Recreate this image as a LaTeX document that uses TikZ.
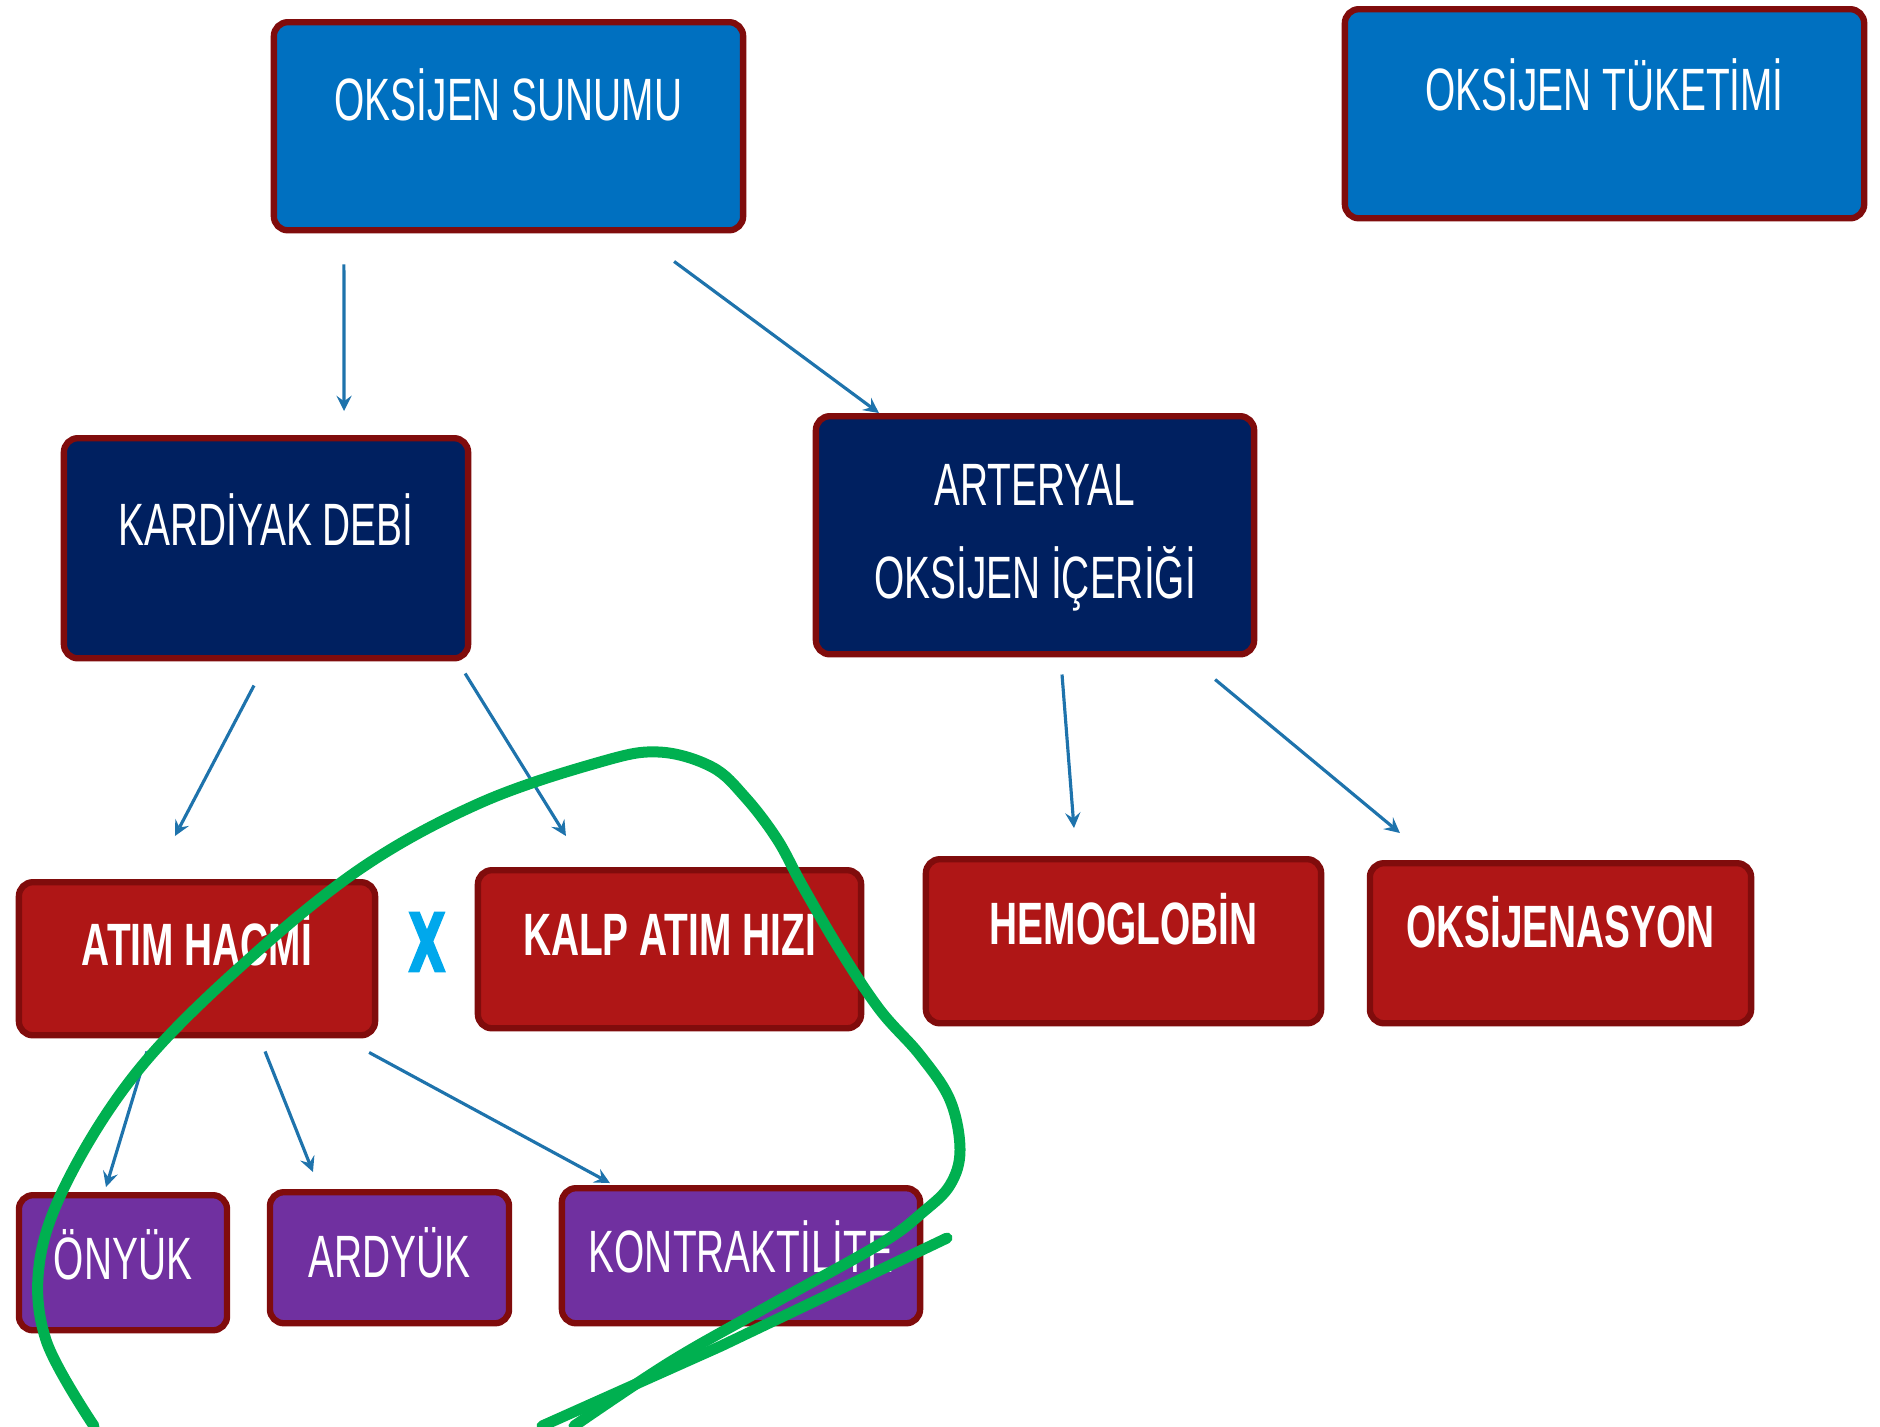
\documentclass[tikz,border=0pt]{standalone}
\usepackage{fontspec}
\newfontfamily\boxfont{Liberation Sans}[FakeStretch=0.65]
\newfontfamily\mulfont{DejaVu Sans}[FakeStretch=0.6, FakeBold=2]
\usepackage{tikz}

\definecolor{sunblue}{RGB}{0,112,192}
\definecolor{navy}{RGB}{0,32,96}
\definecolor{boxred}{RGB}{175,22,22}
\definecolor{boxpurple}{RGB}{112,48,160}
\definecolor{rim}{RGB}{128,12,12}
\definecolor{arrblue}{RGB}{30,115,172}
\definecolor{marker}{RGB}{0,176,80}
\definecolor{xcyan}{RGB}{0,168,236}

\tikzstyle{box}=[shape=rectangle,
                 anchor=north,
                 draw=rim,
                 line width=1.8pt,
                 rounded corners=0.14cm,
                 inner sep=0pt,
                 text=white,
                 font=\boxfont\fontsize{17}{20}\selectfont]
\tikzstyle{sbox}=[box, fill=sunblue]
\tikzstyle{nbox}=[box, fill=navy]
\tikzstyle{rbox}=[box, fill=boxred, font=\boxfont\bfseries\fontsize{17}{20}\selectfont]
\tikzstyle{pbox}=[box, fill=boxpurple]
\tikzstyle{arr}=[->, draw=arrblue, line width=0.9pt]
\tikzstyle{mul}=[inner sep=0pt, text=xcyan,
                 font=\mulfont\bfseries\fontsize{23}{23}\selectfont]
\tikzstyle{scribble}=[draw=marker, line width=0.11cm, line cap=round, line join=round]

\begin{document}
\begin{tikzpicture}[>=stealth, x=0.01cm, y=-0.01cm]
\useasboundingbox (0,0) rectangle (1880,1426);

% top row
\node[sbox, minimum width=4.69cm, text height=0.98cm, text depth=1.10cm] (sunum) at (508.5,19) {OKSİJEN SUNUMU};
\node[sbox, minimum width=5.19cm, text height=1.01cm, text depth=1.08cm] (tuketim) at (1604.5,6) {OKSİJEN TÜKETİMİ};

% second row
\node[nbox, minimum width=4.04cm, text height=1.07cm, text depth=1.13cm] (kd) at (266,435) {KARDİYAK DEBİ};
\node[nbox, minimum width=4.38cm, text height=0.89cm, text depth=1.49cm] (art) at (1035,413)
     {\parbox[t]{4cm}{\centering\baselineskip=0.93cm ARTERYAL\\OKSİJEN İÇERİĞİ}};

% third row
\node[rbox, minimum width=3.56cm, text height=0.83cm, text depth=0.70cm] (atim) at (197,879) {ATIM HACMİ};
\node[rbox, minimum width=3.83cm, text height=0.85cm, text depth=0.73cm] (kalp) at (669.5,867) {KALP ATIM HIZI};
\node[rbox, minimum width=3.95cm, text height=0.85cm, text depth=0.79cm] (hemo) at (1123.5,856) {HEMOGLOBİN};
\node[rbox, minimum width=3.81cm, text height=0.84cm, text depth=0.76cm] (oksj) at (1560.5,860) {OKSİJENASYON};
\node[mul] (times) at (427,942) {X};

% bottom row
\node[pbox, minimum width=2.08cm, text height=0.84cm, text depth=0.51cm] (onyuk) at (123,1192) {ÖNYÜK};
\node[pbox, minimum width=2.39cm, text height=0.85cm, text depth=0.46cm] (ardyuk) at (389.5,1189) {ARDYÜK};
\node[pbox, minimum width=3.58cm, text height=0.84cm, text depth=0.51cm] (kontr) at (741,1185) {KONTRAKTİLİTE};

% arrows
\draw[arr] ([xshift=-1.645cm,yshift=-0.31cm]sunum.south) -- ([xshift=0.78cm,yshift=0.24cm]kd.north);
\draw[arr] ([xshift=1.655cm,yshift=-0.28cm]sunum.south) -- ([xshift=-1.56cm]art.north);
\draw[arr] ([xshift=-0.12cm,yshift=-0.24cm]kd.south) -- ([xshift=-0.22cm,yshift=0.43cm]atim.north);
\draw[arr] ([xshift=1.99cm,yshift=-0.12cm]kd.south) -- ([xshift=-1.035cm,yshift=0.31cm]kalp.north);
\draw[arr] ([xshift=0.27cm,yshift=-0.17cm]art.south) -- ([xshift=-0.495cm,yshift=0.28cm]hemo.north);
\draw[arr] ([xshift=1.80cm,yshift=-0.22cm]art.south) -- ([xshift=-1.605cm,yshift=0.27cm]oksj.north);
\draw[arr] ([xshift=-0.50cm,yshift=-0.13cm]atim.south) -- ([xshift=-0.17cm,yshift=0.05cm]onyuk.north);
\draw[arr] ([xshift=0.68cm,yshift=-0.13cm]atim.south) -- ([xshift=-0.765cm,yshift=0.17cm]ardyuk.north);
\draw[arr] ([xshift=1.72cm,yshift=-0.14cm]atim.south) -- ([xshift=-1.31cm,yshift=0.02cm]kontr.north);

% green hand-drawn loop
\draw[scribble] plot[smooth, tension=0.6] coordinates {
  (94,1426) (46,1340) (40,1259) (72,1172) (140,1068) (240,967) (360,869)
  (480,803) (600,762) (659,752) (712,767) (745,797) (777,839) (802,885)
  (840,950) (880,1010) (920,1055) (950,1100) (960,1150) (950,1185)
  (923,1212) (880,1244) (765,1308) (670,1362) (574,1426)};
\draw[scribble] (947,1238) -- (721,1346) -- (542,1426);

\end{tikzpicture}
\end{document}
